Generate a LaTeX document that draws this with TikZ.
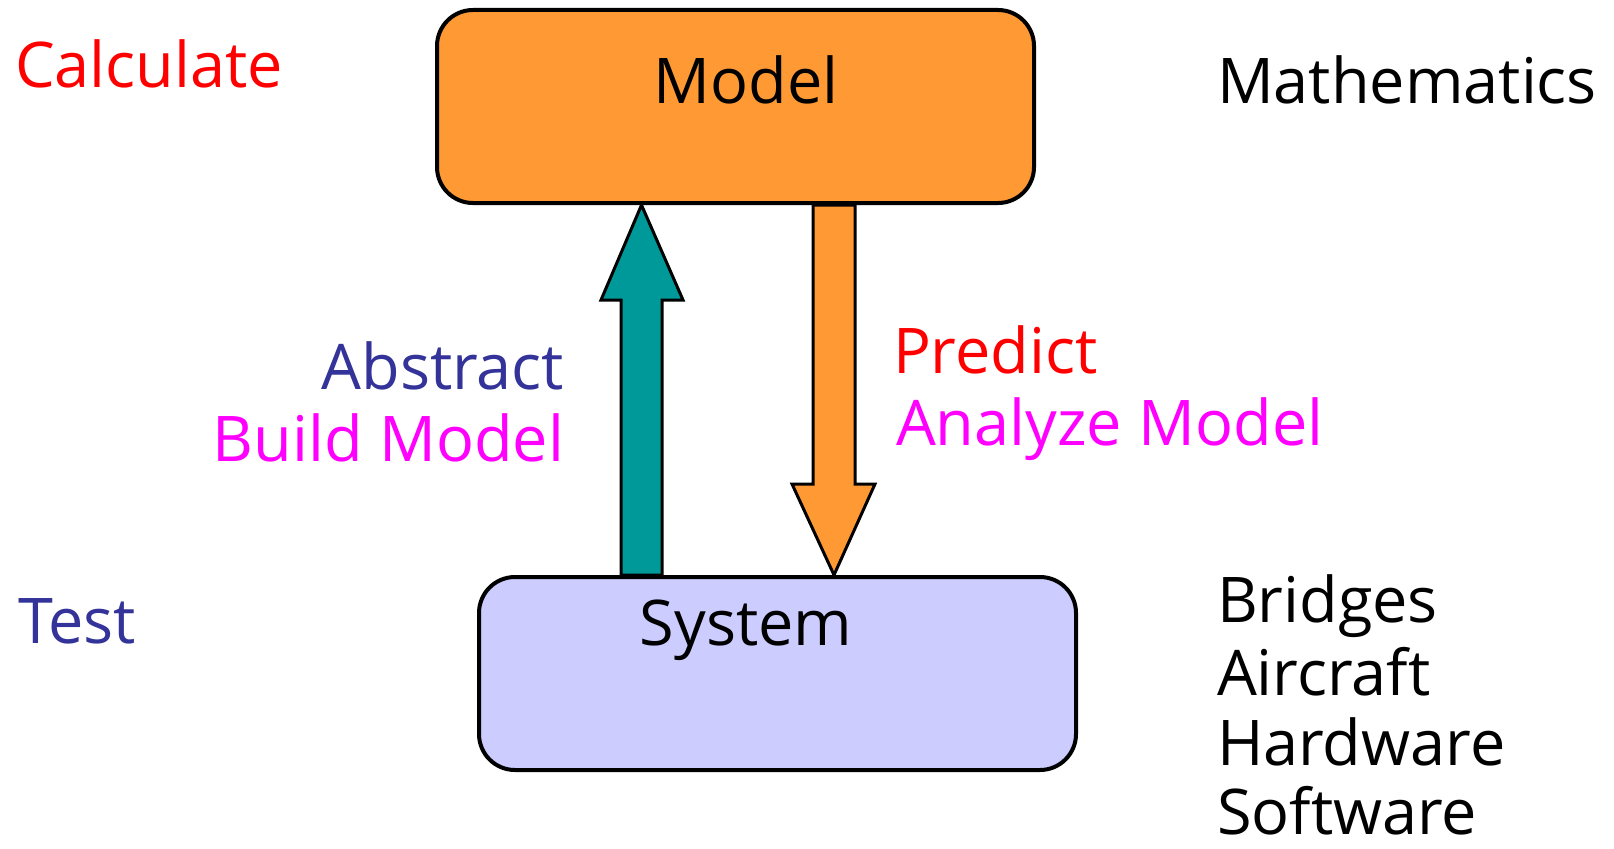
\documentclass[tikz,border=0pt]{standalone}
\usepackage{fontspec}
\setmainfont{Open Sans}
\usetikzlibrary{calc}
\definecolor{boxorange}{HTML}{FF9933}
\definecolor{boxlilac}{HTML}{CCCCFF}
\definecolor{arrowteal}{HTML}{009999}
\definecolor{navytext}{HTML}{333399}
\definecolor{redtext}{HTML}{FF0000}
\definecolor{pinktext}{HTML}{FF00FF}
\begin{document}
\begin{tikzpicture}[x=1bp,y=-1bp,
  every node/.style={font=\fontsize{63bp}{72bp}\selectfont, inner sep=0pt, outer sep=0pt},
  block/.style={draw=black, line width=4bp, rounded corners=36bp, minimum width=597bp, minimum height=193bp},
  blockarrow/.style={draw=black, line width=3bp, line join=miter},
  lbl/.style={anchor=base west},
  lblr/.style={anchor=base east}]
\useasboundingbox (0,0) rectangle (1614,848);

% the two boxes
\node[block, fill=boxorange] (model) at (735.5,106.5) {};
\node[block, fill=boxlilac] (system) at (777.5,673.5) {};
\node[anchor=base] (modeltxt) at (746,103) {Model};
\node[anchor=base] (systemtxt) at (746,645) {System};

% abstraction arrow: system up to model
\coordinate (upTip) at ($(641.5,0 |- model.south)+(0,2)$);
\coordinate (upBase) at ($(641.5,0 |- system.north)+(0,-2)$);
\draw[blockarrow, fill=arrowteal]
  (upTip) -- ($(upTip -| 683,0)+(0,95)$) -- ($(upTip -| 662,0)+(0,95)$)
  -- (upBase -| 662,0) -- (upBase -| 621,0) -- ($(upTip -| 621,0)+(0,95)$)
  -- ($(upTip -| 601,0)+(0,95)$) -- cycle;

% prediction arrow: model down to system
\coordinate (dnTop) at ($(834,0 |- model.south)+(0,2)$);
\coordinate (dnTip) at ($(834,0 |- system.north)+(0,-2)$);
\draw[blockarrow, fill=boxorange]
  (dnTip) -- ($(dnTip -| 875,0)+(0,-91)$) -- ($(dnTip -| 855,0)+(0,-91)$)
  -- (dnTop -| 855,0) -- (dnTop -| 813,0) -- ($(dnTip -| 813,0)+(0,-91)$)
  -- ($(dnTip -| 792,0)+(0,-91)$) -- cycle;

% side labels
\node[lbl, text=redtext] (calc) at (15,87) {Calculate};
\node[lbl, text=navytext] (test) at (18,643) {Test};
\node[lbl] (math) at (1217,103) {Mathematics};
\node[lblr, text=navytext] (abstract) at (564,389) {Abstract};
\node[lblr, text=pinktext] (build) at (564,461) {Build Model};
\node[lbl, text=redtext] (predict) at (893,373) {Predict};
\node[lbl, text=pinktext] (analyze) at (896,445) {Analyze Model};
\node[lbl] (bridges) at (1217,622) {Bridges};
\node[lbl] (aircraft) at (1217,695) {Aircraft};
\node[lbl] (hardware) at (1217,765) {Hardware};
\node[lbl] (software) at (1217,834) {Software};
\end{tikzpicture}
\end{document}
